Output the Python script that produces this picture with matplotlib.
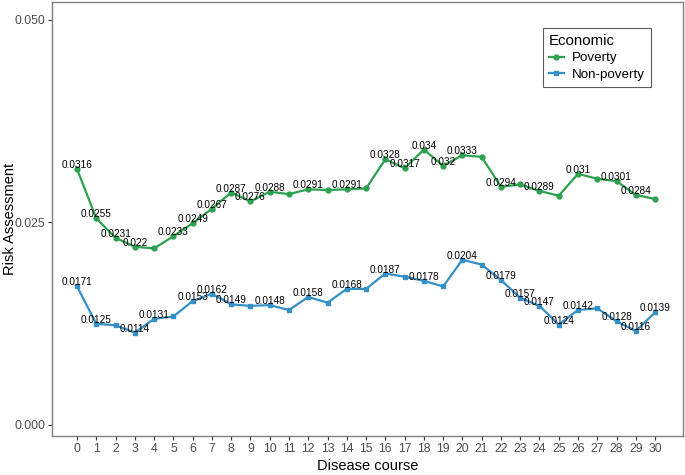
import numpy as np
import matplotlib
matplotlib.use("Agg")
import matplotlib.pyplot as plt

plt.rcParams['font.family'] = ['Liberation Sans', 'DejaVu Sans']

# disease course 0..30
course = list(range(31))

poverty = [0.0316, 0.0255, 0.0231, 0.022, 0.0218, 0.0233, 0.0249, 0.0267, 0.0287, 0.0276,
           0.0288, 0.0285, 0.0291, 0.0290, 0.0291, 0.0292, 0.0328, 0.0317, 0.034, 0.032,
           0.0333, 0.0331, 0.0294, 0.0297, 0.0289, 0.0283, 0.031, 0.0304, 0.0301, 0.0284,
           0.0279]
non_poverty = [0.0171, 0.0125, 0.0123, 0.0114, 0.0131, 0.0134, 0.0153, 0.0162, 0.0149, 0.0147,
               0.0148, 0.0142, 0.0158, 0.0151, 0.0168, 0.0168, 0.0187, 0.0183, 0.0178, 0.0171,
               0.0204, 0.0198, 0.0179, 0.0157, 0.0147, 0.0124, 0.0142, 0.0144, 0.0128, 0.0116,
               0.0139]

# which points got a text label in the original (others were dropped for overlap)
poverty_labelled = [0, 1, 2, 3, 5, 6, 7, 8, 9, 10, 12, 14, 16, 17, 18, 19, 20, 22, 24, 26, 28, 29]
non_poverty_labelled = [0, 1, 3, 4, 6, 7, 8, 10, 12, 14, 16, 18, 20, 22, 23, 24, 25, 26, 28, 29, 30]

green = "#2ca14f"
blue = "#3590c8"

fig = plt.figure(figsize=(6.85, 4.75), dpi=100)
ax = fig.add_axes([52/685, 39/475, 631/685, 434/475])

ax.plot(course, poverty, color=green, lw=1.6, marker='o', ms=3.5, label="Poverty")
ax.plot(course, non_poverty, color=blue, lw=1.6, marker='s', ms=3.5, label="Non-poverty")

for i in poverty_labelled:
    ax.annotate(f"{poverty[i]:.3g}", (course[i], poverty[i]), xytext=(0, 4),
                textcoords='offset pixels', ha='center', va='center', fontsize=7.2, color='black')
for i in non_poverty_labelled:
    ax.annotate(f"{non_poverty[i]:.3g}", (course[i], non_poverty[i]), xytext=(0, 4),
                textcoords='offset pixels', ha='center', va='center', fontsize=7.2, color='black')

ax.set_xlim(-1.3, 31.45)
ax.set_ylim(-0.00136, 0.05222)
ax.set_xticks(course)
ax.set_xticklabels([str(c) for c in course])
ax.set_yticks([0, 0.025, 0.05])
ax.set_yticklabels(["0.000", "0.025", "0.050"])
ax.tick_params(labelsize=8.8, labelcolor='#4d4d4d', color='#333333', length=3, width=0.8, pad=2)

for s in ax.spines.values():
    s.set_color('#7f7f7f')
    s.set_linewidth(1.0)

ax.set_xlabel("Disease course", fontsize=10.5, labelpad=3)
ax.set_ylabel("Risk Assessment", fontsize=10.5)
ax.yaxis.set_label_coords(-0.056, 0.5)

leg = ax.legend(title="Economic", loc='upper left', bbox_to_anchor=(0.778, 0.940),
                borderaxespad=0, fontsize=9.6, title_fontsize=10.8, frameon=True,
                fancybox=False, handlelength=1.1, handletextpad=0.6, labelspacing=0.3,
                borderpad=0.45)
leg.get_frame().set_edgecolor('#333333')
leg.get_frame().set_linewidth(0.8)
leg._legend_box.align = "left"

fig.savefig("out.png", dpi=100)
